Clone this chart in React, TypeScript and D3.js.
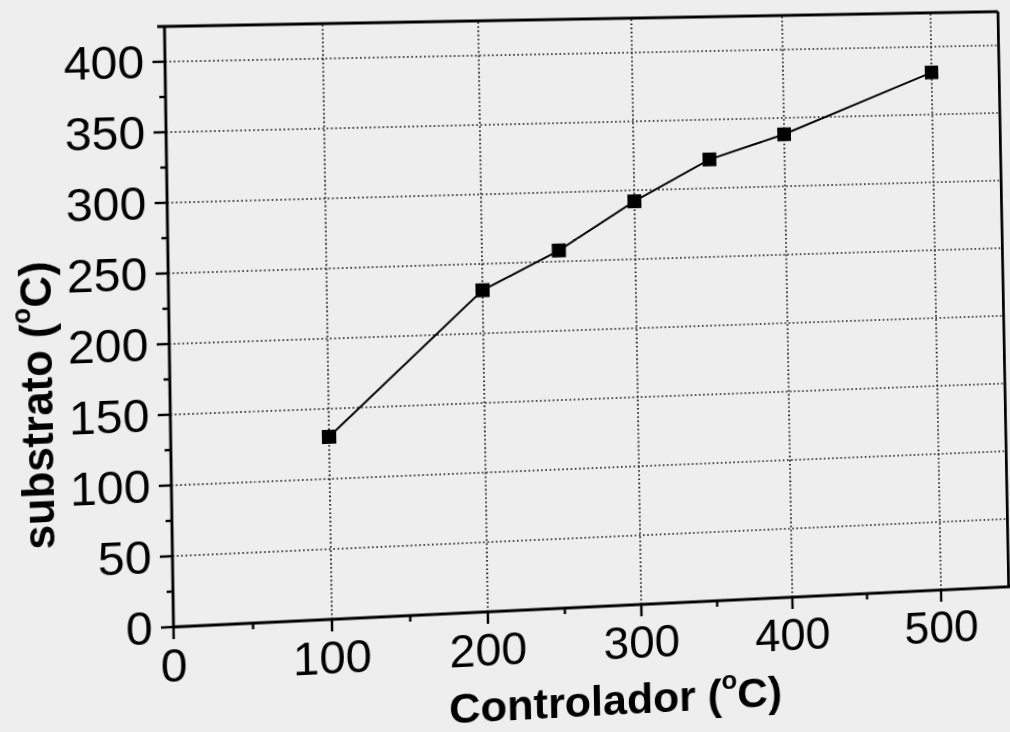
import React from "react";
import * as d3 from "d3";

// ---- data ----
const controlador = [100, 200, 250, 300, 350, 400, 500];
const substrato = [130, 231, 258, 292, 321, 338, 381];
const xTicks = [0, 100, 200, 300, 400, 500];
const xMinor = [50, 150, 250, 350, 450];
const yTicks = [0, 50, 100, 150, 200, 250, 300, 350, 400];
const yMinor = [25, 75, 125, 175, 225, 275, 325, 375];
const xTitle = "Controlador";
const yTitle = "substrato";

// ---- layout (flat coordinates) ----
const L = 174, B = 627, R500 = 939, T400 = 67;
const X_MAX = 546, Y_MAX = 425;

// perspective of the photographed page: flat corners -> photo corners
const SRC: [number, number][] = [[L, B], [R500, B], [L, T400], [R500, T400]];
const DST: [number, number][] = [[173.5, 627], [941, 590], [165, 61.7], [931, 46.7]];

function solve(A: number[][], b: number[]): number[] {
  const n = b.length;
  const M = A.map((r, i) => [...r, b[i]]);
  for (let c = 0; c < n; c++) {
    let p = c;
    for (let r = c + 1; r < n; r++) if (Math.abs(M[r][c]) > Math.abs(M[p][c])) p = r;
    [M[c], M[p]] = [M[p], M[c]];
    for (let r = 0; r < n; r++) {
      if (r === c) continue;
      const f = M[r][c] / M[c][c];
      for (let k = c; k <= n; k++) M[r][k] -= f * M[c][k];
    }
  }
  return M.map((r, i) => r[n] / r[i]);
}

function homography(src: [number, number][], dst: [number, number][]) {
  const A: number[][] = [];
  const bv: number[] = [];
  for (let i = 0; i < 4; i++) {
    const [u, v] = src[i];
    const [x, y] = dst[i];
    A.push([u, v, 1, 0, 0, 0, -u * x, -v * x]);
    bv.push(x);
    A.push([0, 0, 0, u, v, 1, -u * y, -v * y]);
    bv.push(y);
  }
  const [a, b, c, d, e, f, g, h] = solve(A, bv);
  return `matrix3d(${a},${d},0,${g},${b},${e},0,${h},0,0,1,0,${c},${f},0,1)`;
}

export default function App() {
  const x = d3.scaleLinear().domain([0, 500]).range([L, R500]);
  const y = d3.scaleLinear().domain([0, 400]).range([B, T400]);
  const right = x(X_MAX);
  const top = y(Y_MAX);
  const line = d3
    .line<number>()
    .x((_, i) => x(controlador[i]))
    .y((d) => y(d));
  const font = "'Liberation Sans', Arial, Helvetica, sans-serif";
  const grid = { stroke: "#111", strokeWidth: 1.7, strokeDasharray: "1.6 2.6" };
  const sq = 14;

  return (
    <div
      style={{
        position: "fixed",
        left: 0,
        top: 0,
        width: 1010,
        height: 732,
        overflow: "hidden",
        background: "#eeeeee",
      }}
    >
      <svg
        width={1100}
        height={820}
        style={{
          position: "absolute",
          left: 0,
          top: 0,
          overflow: "visible",
          transformOrigin: "0 0",
          transform: homography(SRC, DST),
        }}
      >
        {/* grid */}
        {yTicks.filter((t) => t > 0).map((t) => (
          <line key={"gy" + t} x1={L} x2={right} y1={y(t)} y2={y(t)} {...grid} />
        ))}
        {xTicks.filter((t) => t > 0).map((t) => (
          <line key={"gx" + t} x1={x(t)} x2={x(t)} y1={B} y2={top} {...grid} />
        ))}

        {/* frame */}
        <g stroke="#000" strokeWidth={2.8} fill="none">
          <line x1={L - 7} x2={right} y1={top} y2={top} />
          <line x1={right} x2={right} y1={top} y2={B} />
          <line x1={L} x2={L} y1={top} y2={B} />
          <line x1={L} x2={right + 20} y1={B} y2={B} />
        </g>

        {/* ticks */}
        <g stroke="#000" strokeWidth={2.4}>
          {yTicks.map((t) => (
            <line key={"ty" + t} x1={L - 12} x2={L} y1={y(t)} y2={y(t)} />
          ))}
          {yMinor.map((t) => (
            <line key={"my" + t} x1={L - 6} x2={L} y1={y(t)} y2={y(t)} />
          ))}
          {xTicks.map((t) => (
            <line key={"tx" + t} x1={x(t)} x2={x(t)} y1={B} y2={B + 12} />
          ))}
          {xMinor.map((t) => (
            <line key={"mx" + t} x1={x(t)} x2={x(t)} y1={B} y2={B + 6} />
          ))}
        </g>

        {/* tick labels */}
        <g fontFamily={font} fontSize={46} fill="#000">
          {yTicks.map((t) => (
            <text key={"ly" + t} x={L - 20} y={y(t) + 16} textAnchor="end">
              {t}
            </text>
          ))}
          {xTicks.map((t) => (
            <text key={"lx" + t} x={x(t)} y={B + 54} textAnchor="middle">
              {t}
            </text>
          ))}
        </g>

        {/* axis titles */}
        <text
          x={607}
          y={B + 110}
          textAnchor="middle"
          fontFamily={font}
          fontWeight="bold"
          fontSize={43}
          fill="#000"
        >
          {xTitle} (
          <tspan fontSize={26} dy={-20}>o</tspan>
          <tspan dy={20}>C)</tspan>
        </text>
        <text
          transform={`translate(${L - 112},${y(160)}) rotate(-90)`}
          textAnchor="middle"
          fontFamily={font}
          fontWeight="bold"
          fontSize={43}
          fill="#000"
        >
          {yTitle} (
          <tspan fontSize={26} dy={-20}>o</tspan>
          <tspan dy={20}>C)</tspan>
        </text>

        {/* data */}
        <path d={line(substrato) || ""} fill="none" stroke="#000" strokeWidth={2} />
        {substrato.map((v, i) => (
          <rect
            key={"p" + i}
            x={x(controlador[i]) - sq / 2}
            y={y(v) - sq / 2}
            width={sq}
            height={sq}
            fill="#000"
          />
        ))}
      </svg>
    </div>
  );
}
